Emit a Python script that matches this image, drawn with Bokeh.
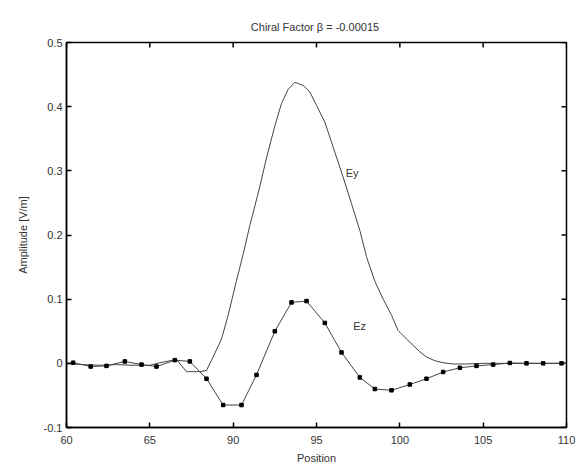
import math
from bokeh.plotting import figure
from bokeh.models import FixedTicker, Range1d, Label, Title
from bokeh.embed import file_html
from bokeh.resources import INLINE

# ---- data ----
ey_x = [80, 81, 82, 83, 84, 85, 85.6, 86.6, 87.2, 88.0, 88.4, 88.8, 89.3, 89.7, 90.2,
        90.6, 91.0, 91.5, 92.0, 92.5, 92.9, 93.3, 93.7, 94.2, 94.6, 95.0, 95.5, 96.0,
        96.6, 97.1, 97.6, 98.0, 98.5, 99.0, 99.5, 99.9, 100.4, 100.8, 101.2, 101.6,
        102.1, 102.6, 103.2, 104, 105, 106, 107, 108, 109, 110]
ey_y = [0.0, -0.002, -0.003, -0.002, -0.003, -0.003, 0.001, 0.006, -0.013, -0.013,
        -0.011, 0.01, 0.038, 0.075, 0.129, 0.17, 0.215, 0.265, 0.32, 0.37, 0.405, 0.427,
        0.438, 0.433, 0.423, 0.402, 0.376, 0.337, 0.29, 0.249, 0.207, 0.166, 0.128, 0.1,
        0.075, 0.051, 0.038, 0.028, 0.018, 0.01, 0.004, 0.001, -0.001, -0.001, 0, 0, 0,
        0, 0, 0]

ez_x = [80.4, 81.45, 82.4, 83.5, 84.5, 85.4, 86.5, 87.4, 88.4, 89.4, 90.5, 91.4, 92.5,
        93.5, 94.4, 95.5, 96.5, 97.6, 98.5, 99.5, 100.6, 101.6, 102.6, 103.6, 104.6,
        105.6, 106.6, 107.6, 108.6, 109.7]
ez_y = [0.001, -0.005, -0.004, 0.003, -0.002, -0.005, 0.005, 0.003, -0.024, -0.065,
        -0.065, -0.018, 0.050, 0.095, 0.097, 0.063, 0.017, -0.022, -0.040, -0.042,
        -0.033, -0.024, -0.0135, -0.007, -0.004, -0.002, 0.0005, 0.0, 0.0, 0.0]

x_ticks = [80, 85, 90, 95, 100, 105, 110]
x_tick_labels = ["60", "65", "90", "95", "100", "105", "110"]
y_ticks = [-0.1, 0, 0.1, 0.2, 0.3, 0.4, 0.5]
y_tick_labels = ["-0.1", "0", "0.1", "0.2", "0.3", "0.4", "0.5"]

title_text = "Chiral Factor  \u03b2 = -0.00015"
x_label = "Position"
y_label = "Amplitude [V/m]"
FONT = "Liberation Sans"
TXT = "#333333"

X0, X1 = 80, 110
Y0, Y1 = -0.1, 0.5

p = figure(width=586, height=470, x_range=Range1d(X0, X1), y_range=Range1d(Y0, Y1),
           output_backend="svg", toolbar_location=None,
           min_border_left=66, min_border_right=20, min_border_top=42, min_border_bottom=43,
           background_fill_color="white", border_fill_color="white")
p.grid.visible = False
p.outline_line_color = "black"
p.outline_line_width = 1.5

p.title = Title(text=title_text, align="center", text_font=FONT, text_font_size="11px",
                text_font_style="normal", text_color=TXT, standoff=19)

def style_axis(ax):
    ax.axis_line_color = "black"
    ax.axis_line_width = 1.5
    ax.major_tick_in = 5
    ax.major_tick_out = 0
    ax.minor_tick_line_color = None
    ax.major_tick_line_color = "black"
    ax.major_tick_line_width = 1.5
    ax.major_label_text_font = FONT
    ax.major_label_text_font_size = "11px"
    ax.major_label_text_color = TXT

xa = p.xaxis[0]
xa.ticker = FixedTicker(ticks=x_ticks)
xa.major_label_overrides = dict(zip(x_ticks, x_tick_labels))
style_axis(xa)
xa.major_label_standoff = 8
xa.axis_label = x_label
xa.axis_label_text_font = FONT
xa.axis_label_text_font_size = "11px"
xa.axis_label_text_font_style = "normal"
xa.axis_label_text_color = TXT
xa.axis_label_standoff = 5

ya = p.yaxis[0]
ya.ticker = FixedTicker(ticks=y_ticks)
ya.major_label_overrides = dict(zip(y_ticks, y_tick_labels))
style_axis(ya)
ya.major_label_standoff = 4
ya.axis_label = y_label
ya.axis_label_text_font = FONT
ya.axis_label_text_font_size = "11px"
ya.axis_label_text_font_style = "normal"
ya.axis_label_text_color = TXT
ya.axis_label_standoff = 12

# inward ticks on the top and right edges of the box
p.ray(x=x_ticks, y=[Y1] * len(x_ticks), length=5, length_units="screen",
      angle=-math.pi / 2, line_color="black", line_width=1.5)
p.ray(x=[X1] * len(y_ticks), y=y_ticks, length=5, length_units="screen",
      angle=math.pi, line_color="black", line_width=1.5)

p.line(ey_x, ey_y, line_color="#444444", line_width=1)
p.line([X0] + ez_x, [0.0] + ez_y, line_color="#444444", line_width=1)
p.scatter(ez_x, ez_y, marker="square", size=3.5, fill_color="black", line_color="black")

p.add_layout(Label(x=96.75, y=0.296, text="Ey", text_font=FONT, text_font_size="11px",
                   text_color=TXT, text_baseline="middle"))
p.add_layout(Label(x=97.2, y=0.058, text="Ez", text_font=FONT, text_font_size="11px",
                   text_color=TXT, text_baseline="middle"))

open("out.html", "w").write(file_html(p, INLINE))
